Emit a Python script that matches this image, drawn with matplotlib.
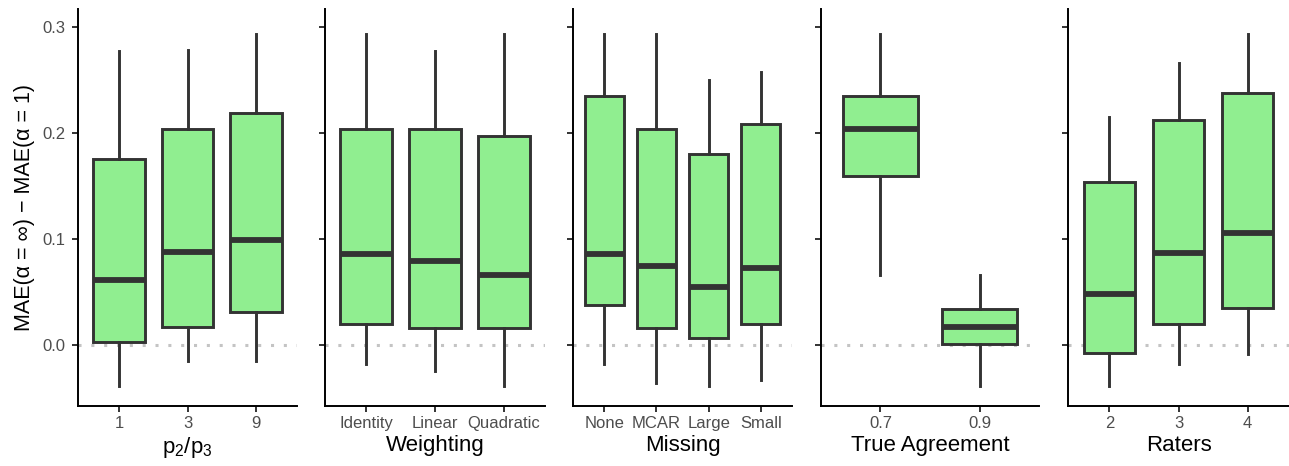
import matplotlib
matplotlib.use("Agg")
import matplotlib.pyplot as plt

plt.rcParams['font.family'] = ['Liberation Sans', 'DejaVu Sans']

# one entry per panel: x label, categories, and box stats (low whisker, q1, median, q3, high whisker)
titles = [r'$\mathregular{p_2/p_3}$', 'Weighting', 'Missing', 'True Agreement', 'Raters']
cats = [
    ['1', '3', '9'],
    ['Identity', 'Linear', 'Quadratic'],
    ['None', 'MCAR', 'Large', 'Small'],
    ['0.7', '0.9'],
    ['2', '3', '4'],
]
whislo = [
    [-0.038, -0.015, -0.015],
    [-0.018, -0.024, -0.038],
    [-0.018, -0.036, -0.038, -0.033],
    [0.066, -0.038],
    [-0.038, -0.018, -0.008],
]
q1 = [
    [0.003, 0.017, 0.031],
    [0.020, 0.016, 0.016],
    [0.038, 0.016, 0.007, 0.020],
    [0.159, 0.001],
    [-0.007, 0.020, 0.035],
]
med = [
    [0.061, 0.088, 0.099],
    [0.086, 0.079, 0.066],
    [0.086, 0.075, 0.055, 0.073],
    [0.204, 0.017],
    [0.048, 0.087, 0.106],
]
q3 = [
    [0.175, 0.204, 0.219],
    [0.204, 0.204, 0.197],
    [0.235, 0.204, 0.180, 0.208],
    [0.235, 0.034],
    [0.154, 0.212, 0.238],
]
whishi = [
    [0.277, 0.278, 0.293],
    [0.293, 0.277, 0.293],
    [0.293, 0.293, 0.250, 0.257],
    [0.293, 0.066],
    [0.215, 0.266, 0.293],
]

W, H = 1289, 466
fig = plt.figure(figsize=(W / 100, H / 100), dpi=100)

lefts = [78, 325, 573, 821, 1068]
rights = [297, 545, 792, 1039, 1289]
top, bot = 9, 406

dark = '#333333'
for i in range(5):
    ax = fig.add_axes([lefts[i] / W, (H - bot) / H, (rights[i] - lefts[i]) / W, (bot - top) / H])
    n = len(cats[i])
    stats = []
    for j in range(n):
        stats.append(dict(whislo=whislo[i][j], q1=q1[i][j], med=med[i][j],
                          q3=q3[i][j], whishi=whishi[i][j], fliers=[]))
    ax.axhline(0, color='#C4C4C4', lw=2.2, ls=(0, (1, 3.2)), zorder=0)
    ax.bxp(stats, positions=range(1, n + 1), widths=0.75, patch_artist=True,
           showcaps=False,
           boxprops=dict(facecolor='#90EE90', edgecolor=dark, linewidth=2.1),
           whiskerprops=dict(color=dark, linewidth=2.1),
           medianprops=dict(color=dark, linewidth=4.2, solid_capstyle='butt'))
    ax.set_xlim(0.4, n + 0.6)
    ax.set_ylim(-0.0572, 0.3167)
    ax.set_xticks(range(1, n + 1))
    ax.set_xticklabels(cats[i])
    ax.set_yticks([0.0, 0.1, 0.2, 0.3])
    if i == 0:
        ax.set_yticklabels(['0.0', '0.1', '0.2', '0.3'])
        ax.set_ylabel('MAE(α = ∞) − MAE(α = 1)', fontsize=15.5, labelpad=5)
    else:
        ax.set_yticklabels([])
    ax.set_xlabel(titles[i], fontsize=16, labelpad=3)
    for s in ['top', 'right']:
        ax.spines[s].set_visible(False)
    for s in ['left', 'bottom']:
        ax.spines[s].set_linewidth(1.4)
        ax.spines[s].set_color('black')
    ax.tick_params(length=4, width=1.4, color='#333333', labelsize=12,
                   labelcolor='#4D4D4D', pad=3)
    ax.tick_params(axis='y', pad=5)

fig.savefig('out.png', dpi=100)
